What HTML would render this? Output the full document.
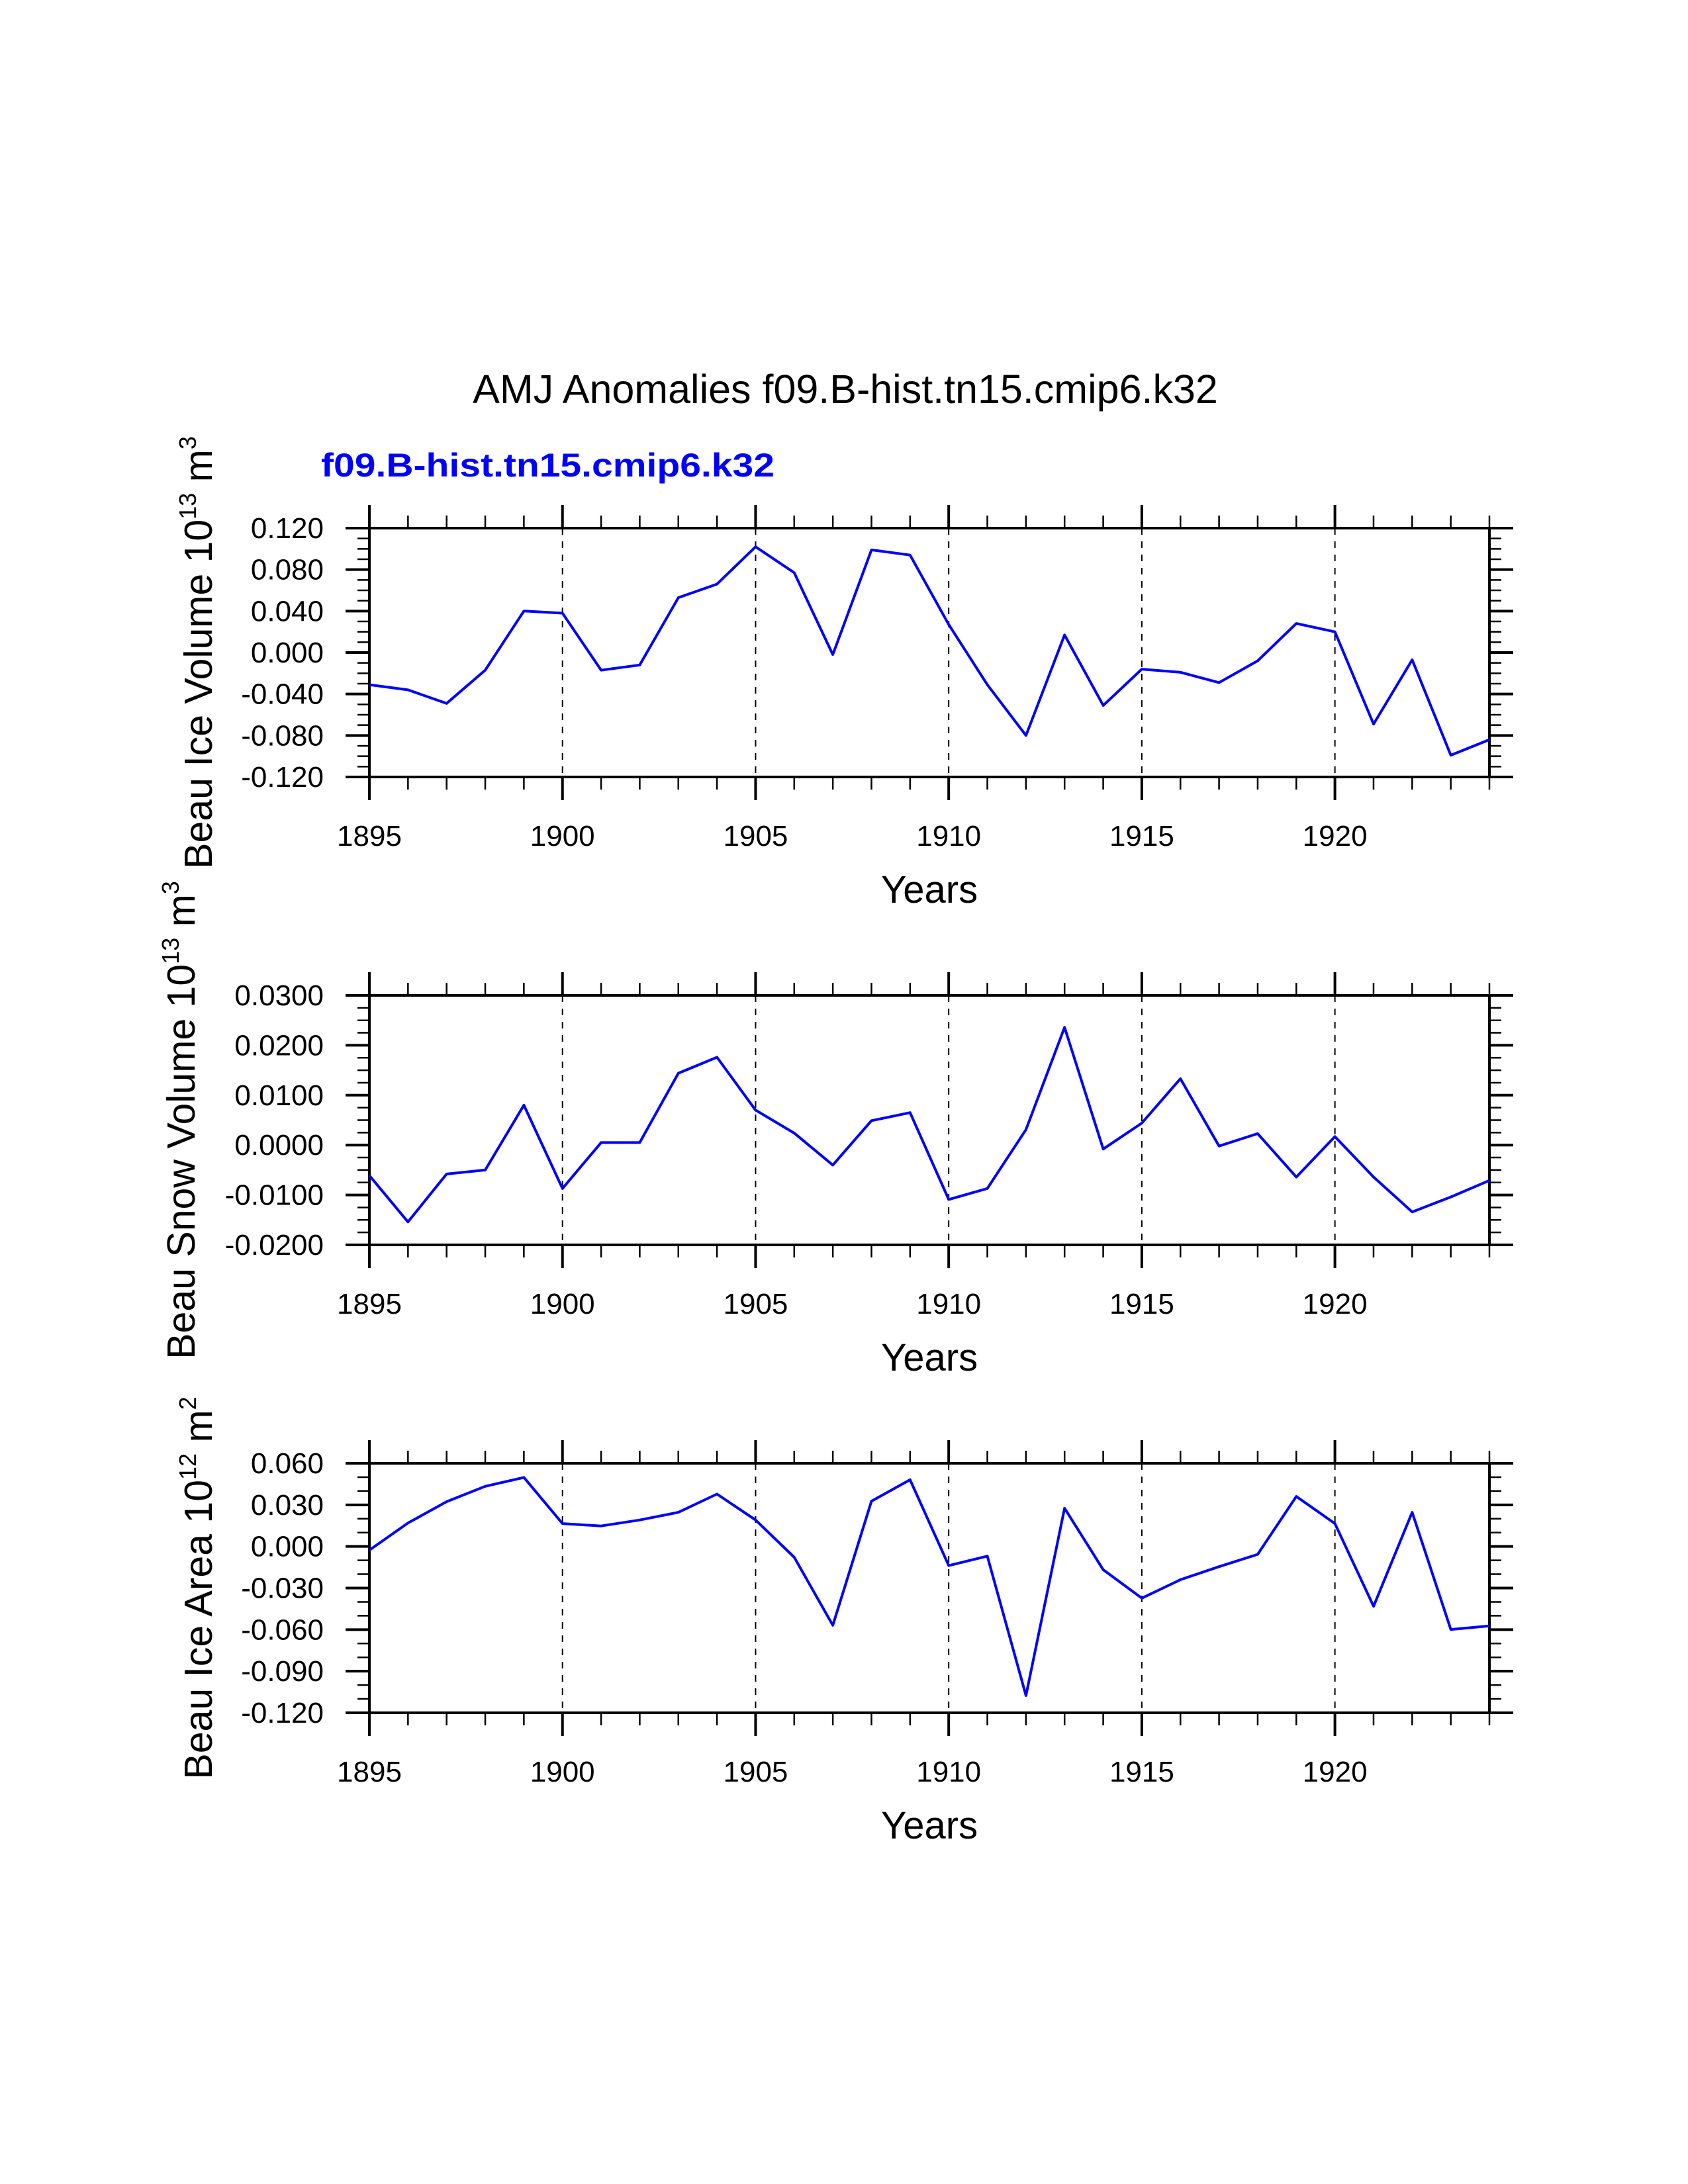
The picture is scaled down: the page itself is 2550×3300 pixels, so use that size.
<!DOCTYPE html>
<html><head><meta charset="utf-8"><style>
html,body{margin:0;padding:0;background:#fff;}
svg{display:block;font-family:"Liberation Sans",sans-serif;}
</style></head><body>
<svg id="chart" width="2550" height="3300" viewBox="0 0 2550 3300" xmlns="http://www.w3.org/2000/svg">
<rect width="2550" height="3300" fill="#fff"/>
<text x="1277" y="609" font-size="61" text-anchor="middle">AMJ Anomalies f09.B-hist.tn15.cmip6.k32</text>
<text x="485" y="720" font-size="50" font-weight="bold" fill="#0000ff" textLength="685" lengthAdjust="spacingAndGlyphs">f09.B-hist.tn15.cmip6.k32</text>
</svg>
<script>
const years = [1895,1896,1897,1898,1899,1900,1901,1902,1903,1904,1905,1906,1907,1908,1909,1910,1911,1912,1913,1914,1915,1916,1917,1918,1919,1920,1921,1922,1923,1924];
const iceVolume = [-0.031,-0.036,-0.049,-0.017,0.040,0.038,-0.017,-0.012,0.053,0.066,0.102,0.077,-0.002,0.099,0.094,0.027,-0.031,-0.080,0.017,-0.051,-0.016,-0.019,-0.029,-0.008,0.028,0.020,-0.069,-0.007,-0.099,-0.084];
const snowVolume = [-0.0061,-0.0154,-0.0058,-0.0050,0.0080,-0.0087,0.0005,0.0005,0.0144,0.0176,0.0070,0.0024,-0.0040,0.0049,0.0065,-0.0109,-0.0087,0.0031,0.0236,-0.0008,0.0044,0.0133,-0.0002,0.0023,-0.0064,0.0017,-0.0064,-0.0134,-0.0104,-0.0071];
const iceArea = [-0.0027,0.0169,0.0323,0.0434,0.0498,0.0165,0.0148,0.0191,0.0246,0.0378,0.0191,-0.0078,-0.0569,0.0327,0.0481,-0.0138,-0.0070,-0.1076,0.0276,-0.0168,-0.0373,-0.0240,-0.0146,-0.0057,0.0361,0.0165,-0.0432,0.0246,-0.0599,-0.0573];
const xTickLabels = ["1895","1900","1905","1910","1915","1920"];
const iceVolTicks = ["0.120","0.080","0.040","0.000","-0.040","-0.080","-0.120"];
const snowTicks = ["0.0300","0.0200","0.0100","0.0000","-0.0100","-0.0200"];
const areaTicks = ["0.060","0.030","0.000","-0.030","-0.060","-0.090","-0.120"];

const NS='http://www.w3.org/2000/svg';
const svg=document.getElementById('chart');
function mk(tag,attrs,parent){const e=document.createElementNS(NS,tag);for(const k in attrs)e.setAttribute(k,attrs[k]);(parent||svg).appendChild(e);return e;}
const X0=558,X1=2250,xMin=1895,xMax=1924;
function xs(v){return X0+(v-xMin)/(xMax-xMin)*(X1-X0);}

function panel(o){
  const g=mk('g',{});
  
  
  const ys=v=>o.top+(o.ymax-v)/(o.ymax-o.ymin)*(o.bot-o.top);
  for(let y=1900;y<=1920;y+=5){
    const l=mk('line',{x1:xs(y),x2:xs(y),y1:o.top,y2:o.bot,stroke:'#000','stroke-width':2,'stroke-dasharray':'10,10'},g);
    
    
  }
  for(let y=xMin;y<=xMax;y++){
    const maj=(y%5===0);
    const len=maj?35:19;
    mk('line',{x1:xs(y),x2:xs(y),y1:o.top,y2:o.top-len,stroke:'#000','stroke-width':maj?4:2.5},g);
    mk('line',{x1:xs(y),x2:xs(y),y1:o.bot,y2:o.bot+len,stroke:'#000','stroke-width':maj?4:2.5},g);
  }
  xTickLabels.forEach(s=>{
    const t=mk('text',{x:xs(+s),y:o.bot+104,'font-size':44,'text-anchor':'middle'},g);
    
    
    t.textContent=s;
  });
  for(let v=o.ymin;v<=o.ymax+1e-9;v+=o.minor){
    const yy=ys(v);
    mk('line',{x1:X0,x2:X0-18,y1:yy,y2:yy,stroke:'#000','stroke-width':2.5},g);
    mk('line',{x1:X1,x2:X1+18,y1:yy,y2:yy,stroke:'#000','stroke-width':2.5},g);
  }
  o.ticks.forEach(s=>{
    const yy=ys(parseFloat(s));
    mk('line',{x1:X0,x2:X0-36,y1:yy,y2:yy,stroke:'#000','stroke-width':4},g);
    mk('line',{x1:X1,x2:X1+36,y1:yy,y2:yy,stroke:'#000','stroke-width':4},g);
    const t=mk('text',{x:489,y:yy+15,'font-size':44,'text-anchor':'end'},g);
    
    
    t.textContent=s;
  });
  const f=mk('rect',{x:X0,y:o.top,width:X1-X0,height:o.bot-o.top,fill:'none',stroke:'#000','stroke-width':4},g);
  
  
  const pts=years.map((y,i)=>xs(y).toFixed(1)+','+ys(o.data[i]).toFixed(1)).join(' ');
  const pl=mk('polyline',{points:pts,fill:'none',stroke:'#0000ff','stroke-width':4,'stroke-linejoin':'round'},g);
  
  
  const xt=mk('text',{x:(X0+X1)/2,y:o.bot+190,'font-size':58,'text-anchor':'middle'},g);
  
  
  xt.textContent='Years';
  const cy=(o.top+o.bot)/2;
  const yt=mk('text',{x:0,y:0,'font-size':59,'text-anchor':'middle',transform:`translate(${o.tx},${cy}) rotate(-90)`},g);
  
  
  const a=mk('tspan',{},yt);a.textContent=o.title+' 10';
  const b=mk('tspan',{dy:-24,'font-size':36},yt);b.textContent=o.e1;
  const c=mk('tspan',{dy:24},yt);c.textContent=' m';
  const d=mk('tspan',{dy:-24,'font-size':36},yt);d.textContent=o.e2;
}
panel({name:'ice-volume-panel',top:798,bot:1174,ymin:-0.12,ymax:0.12,minor:0.01,ticks:iceVolTicks,data:iceVolume,tx:320,title:'Beau Ice Volume',e1:'13',e2:'3'});
panel({name:'snow-volume-panel',top:1504,bot:1881,ymin:-0.02,ymax:0.03,minor:0.0025,ticks:snowTicks,data:snowVolume,tx:294,title:'Beau Snow Volume',e1:'13',e2:'3'});
panel({name:'ice-area-panel',top:2211,bot:2588,ymin:-0.12,ymax:0.06,minor:0.01,ticks:areaTicks,data:iceArea,tx:320,title:'Beau Ice Area',e1:'12',e2:'2'});
</script>
</body></html>
